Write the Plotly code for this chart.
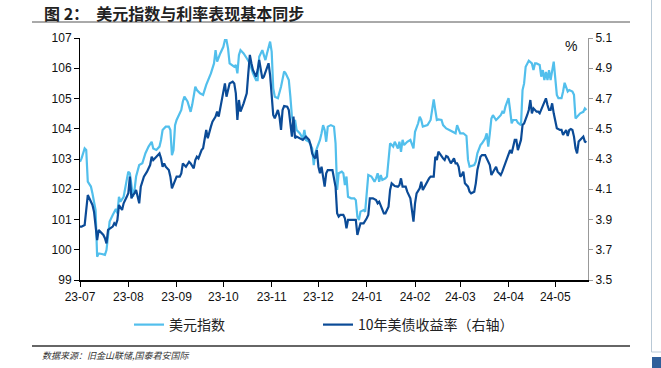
import plotly.graph_objects as go

def ds(prefix, days):
    return [f"{prefix}-{d:02d}" for d in days]

# ---- 10Y UST yield (%), right axis ----
ust_dates = (
    ds("2023-07", [1,2,4,5,6,7,9,10,11,12,13,14,16,17,18,19,21,22,23,24,25,26,28,29,31]) +
    ds("2023-08", [1,2,3,4,5,6,7,8,9,11,13,15,16,17,19,21,22,23,24,25,27,28,29,31]) +
    ds("2023-09", [1,3,4,5,7,9,10,12,13,14,15,17,18,20,21,23,24,26,27,28,29,30]) +
    ds("2023-10", [1,2,3,4,5,7,8,9,10,11,12,14,16,17,18,19,20,22,23,24,25,26,27,28,29,30,31]) +
    ds("2023-11", [1,2,3,5,6,7,8,9,11,12,13,14,15,16,17,19,21,23,25,26,27,28,29,30]) +
    ds("2023-12", [1,2,3,4,5,6,7,9,10,12,13,14,15,17,18,19,20,22,24,25,26,28,29,30]) +
    ds("2024-01", [1,2,3,5,7,8,9,11,12,13,15,16,17,19,21,22,23,24,26,27,29,30,31]) +
    ds("2024-02", [1,2,4,5,6,8,10,11,13,14,15,16,18,19,20,21,22,24,26,27,28,29]) +
    ds("2024-03", [1,2,3,4,6,7,8,10,11,12,14,15,17,19,20,21,22,24,25,27,28,30]) +
    ds("2024-04", [1,2,3,4,5,6,7,9,10,11,12,13,14,15,16,17,19,20,21,22,24,25,26,27,28,29,30]) +
    ds("2024-05", [1,2,4,5,6,8,9,10,11,12,13,14,15,16,18,19,20,21])
)
ust_vals = [
    3.853,3.853,3.864,3.963,4.062,4.040,3.996,3.952,3.853,3.764,3.831,3.820,3.798,3.776,3.742,3.831,3.842,3.853,3.875,3.864,3.897,3.996,3.963,4.007,4.051,
    4.073,4.183,4.040,4.062,4.073,4.095,4.040,4.007,4.117,4.183,4.216,4.260,4.315,4.293,4.315,4.337,4.304,4.249,4.271,4.249,4.227,4.183,4.106,4.161,
    4.183,4.183,4.205,4.271,4.249,4.282,4.271,4.238,4.293,4.315,4.304,4.359,4.371,4.492,4.437,4.514,4.547,4.580,4.613,4.580,4.635,4.679,
    4.745,4.800,4.712,4.767,4.800,4.811,4.800,4.734,4.558,4.690,4.613,4.668,4.734,4.866,4.988,4.933,4.888,4.844,4.888,4.955,4.899,4.833,4.844,4.877,4.899,4.933,4.855,
    4.701,4.591,4.569,4.624,4.580,4.492,4.624,4.650,4.646,4.624,4.536,4.448,4.580,4.437,4.448,4.437,4.426,4.448,4.426,4.393,4.337,4.315,4.304,4.359,
    4.249,4.205,4.249,4.183,4.117,4.205,4.227,4.227,4.227,4.117,3.941,3.919,3.930,3.930,3.908,3.842,3.897,3.897,3.897,3.897,3.798,3.875,3.875,3.875,
    3.908,3.930,4.040,4.040,4.029,4.007,4.018,3.963,3.941,3.941,3.985,4.095,4.139,4.121,4.117,4.128,4.172,4.117,4.117,4.084,4.040,3.963,3.886,
    4.007,4.073,4.106,4.150,4.095,4.139,4.172,4.183,4.183,4.315,4.293,4.348,4.315,4.304,4.293,4.320,4.315,4.271,4.304,4.271,4.271,4.249,
    4.183,4.194,4.216,4.139,4.117,4.084,4.073,4.084,4.139,4.227,4.315,4.326,4.326,4.282,4.260,4.194,4.216,4.249,4.216,4.194,4.216,4.271,
    4.326,4.359,4.337,4.393,4.426,4.426,4.359,4.426,4.525,4.536,4.558,4.591,4.624,4.690,4.602,4.635,4.613,4.613,4.602,4.624,4.668,4.701,4.657,4.624,4.624,4.668,4.602,
    4.558,4.503,4.492,4.492,4.459,4.492,4.452,4.492,4.498,4.492,4.448,4.371,4.337,4.415,4.437,4.448,4.415,4.410,
]

# ---- US dollar index, left axis ----
dxy_dates = (
    ds("2023-07", [1,2,4,5,6,8,9,11,12,13,15,17,18,20,22,24,25,26,27,29,31]) +
    ds("2023-08", [1,2,4,5,6,8,10,12,14,16,17,19,21,22,23,25,27,28,29,30,31]) +
    ds("2023-09", [1,4,5,6,8,10,11,13,14,16,18,20,23,25,26,27,29]) +
    ds("2023-10", [1,2,3,4,5,8,9,10,11,12,14,16,17,18,20,22,23,24,26,27,28,29,31]) +
    ds("2023-11", [1,2,3,5,7,9,10,12,13,14,15,16,17,19,21,22,23,25,26,27,28,29,30]) +
    ds("2023-12", [2,3,4,5,6,7,9,11,12,13,14,16,17,18,19,20,22,24,25,26,27,28,30,31]) +
    ds("2024-01", [1,2,4,6,7,8,9,10,11,13,14,15,16,18,19,21,22,23,24,25,27,29,30,31]) +
    ds("2024-02", [1,3,4,5,6,8,9,11,13,14,15,16,18,19,21,23,25,27,28]) +
    ds("2024-03", [1,3,5,6,7,10,11,12,14,15,17,18,19,20,21,22,24,25,27,28,29,30]) +
    ds("2024-04", [1,2,3,4,6,7,9,10,11,12,13,14,16,17,18,19,21,22,23,24,25,26,27,28,30]) +
    ds("2024-05", [1,2,3,5,6,7,9,10,12,13,14,16,17,19,20,21])
)
dxy_vals = [
    102.91,103.02,103.35,103.30,102.25,102.09,101.86,101.31,99.77,99.88,99.86,99.83,99.99,100.93,101.15,101.35,101.20,101.75,101.59,101.75,102.31,
    102.58,102.53,101.75,101.98,102.42,102.80,102.86,103.19,103.41,103.57,103.35,103.30,103.41,103.63,103.96,104.07,104.07,103.96,103.13,103.30,104.12,
    104.29,104.62,104.90,105.06,104.90,104.56,104.79,105.39,105.28,105.17,105.12,105.45,105.83,106.16,106.60,106.22,106.49,
    106.71,106.93,106.93,106.66,106.16,106.05,106.11,105.83,106.44,106.60,106.49,106.33,106.22,106.16,105.83,105.61,105.61,106.38,106.60,106.44,106.27,106.49,106.88,
    106.55,105.34,105.06,105.01,105.39,105.89,105.83,105.61,105.06,104.40,104.18,104.29,103.96,103.85,103.68,103.96,103.63,103.57,103.46,103.35,102.80,103.19,103.35,
    103.63,103.85,104.12,103.96,103.57,104.07,104.12,104.07,103.52,101.98,102.53,102.58,102.53,102.14,102.42,101.75,101.70,101.70,101.64,101.09,100.98,101.26,101.31,101.26,
    101.81,102.47,102.42,102.25,102.36,102.53,102.25,102.47,102.31,102.36,102.42,103.08,103.52,103.41,103.57,103.35,103.57,103.24,103.63,103.46,103.57,103.63,103.46,103.35,
    103.90,104.18,104.40,104.29,104.07,104.12,104.12,104.29,104.97,104.62,104.29,104.31,104.29,104.12,104.01,103.96,103.90,103.85,104.12,
    103.85,103.85,103.76,102.97,102.75,102.80,102.91,103.19,103.46,103.52,103.68,103.85,103.41,103.85,104.34,104.45,104.29,104.34,104.45,104.56,104.51,104.73,
    105.01,104.62,104.18,104.29,104.29,104.20,104.12,105.28,105.50,106.05,106.16,106.25,106.16,105.94,106.16,106.16,106.11,105.72,105.94,105.61,105.88,105.61,105.94,105.61,106.22,
    105.72,105.12,105.01,105.01,105.23,105.52,105.23,105.28,105.23,105.12,104.34,104.45,104.51,104.56,104.67,104.62,
]

assert len(ust_dates) == len(ust_vals), (len(ust_dates), len(ust_vals))
assert len(dxy_dates) == len(dxy_vals), (len(dxy_dates), len(dxy_vals))

title_text = "图 2：  美元指数与利率表现基本同步"
name_dxy = "美元指数"
name_ust = "10年美债收益率（右轴）"
source_text = "数据来源：旧金山联储,国泰君安国际"

LIGHT = "#52BFEC"
DARK = "#0B4B97"
CJK = "Noto Sans CJK SC"
LAT = "Liberation Sans, Arial, sans-serif"

W, H = 661, 368
# plot area in window pixels: x 80..588, y 38..280
L, R, T, B = 80, 588, 38, 280
def px(x): return (x - L) / (R - L)
def py(y): return (B - y) / (B - T)

fig = go.Figure()
fig.add_trace(go.Scatter(x=dxy_dates, y=dxy_vals, name=name_dxy, mode="lines",
                         line=dict(color=LIGHT, width=2.2), legend="legend"))
fig.add_trace(go.Scatter(x=ust_dates, y=ust_vals, name=name_ust, mode="lines",
                         line=dict(color=DARK, width=2.2), yaxis="y2", legend="legend2"))

fig.update_layout(
    width=W, height=H,
    margin=dict(l=L, r=W - R, t=T, b=H - B, pad=0),
    paper_bgcolor="white", plot_bgcolor="white",
    font=dict(family=LAT, size=12, color="#000"),
    xaxis=dict(type="date", range=["2023-07-01", "2024-05-22"],
               tick0="2023-07-01", dtick="M1", tickformat="%y-%m",
               ticks="outside", ticklen=5, tickcolor="#000", tickwidth=1,
               showline=True, linecolor="#000", linewidth=1.5,
               showgrid=False, zeroline=False,
               tickfont=dict(family=LAT, size=12, color="#111")),
    yaxis=dict(range=[99, 107], dtick=1, ticks="outside", ticklen=5,
               tickcolor="#000", showline=True, linecolor="#000", linewidth=1,
               showgrid=False, zeroline=False,
               tickfont=dict(family=LAT, size=12, color="#111")),
    yaxis2=dict(range=[3.5, 5.1], dtick=0.2, tick0=3.5, tickformat=".1f",
                overlaying="y", side="right", ticks="outside", ticklen=4,
                tickcolor="#999", showline=True, linecolor="#999", linewidth=1,
                showgrid=False, zeroline=False,
                tickfont=dict(family=LAT, size=12, color="#111")),
    legend=dict(x=px(129), y=py(325), xanchor="left", yanchor="middle",
                orientation="h", bgcolor="rgba(0,0,0,0)",
                font=dict(family=CJK, size=14, color="#222"), itemwidth=30),
    legend2=dict(x=px(318), y=py(325), xanchor="left", yanchor="middle",
                 orientation="h", bgcolor="rgba(0,0,0,0)",
                 font=dict(family=CJK, size=14, color="#222"), itemwidth=30),
    showlegend=True,
)

fig.add_annotation(text=f"<b>{title_text}</b>", xref="paper", yref="paper",
                   x=px(42), y=py(13), xanchor="left", yanchor="middle",
                   showarrow=False, font=dict(family=CJK, size=16, color="#222"))
fig.add_annotation(text="%", xref="paper", yref="paper", x=px(571), y=py(46),
                   xanchor="center", yanchor="middle", showarrow=False,
                   font=dict(family=LAT, size=14, color="#111"))
fig.add_annotation(text=f"<i>{source_text}</i>", xref="paper", yref="paper",
                   x=px(40), y=py(355), xanchor="left", yanchor="middle",
                   showarrow=False, font=dict(family=CJK, size=9, color="#333"))

fig.add_shape(type="line", xref="paper", yref="paper", x0=px(32), x1=px(630),
              y0=py(22), y1=py(22), line=dict(color="#555", width=1))
fig.add_shape(type="line", xref="paper", yref="paper", x0=px(32), x1=px(630),
              y0=py(346), y1=py(346), line=dict(color="#333", width=1.5))
fig.add_shape(type="line", xref="paper", yref="paper", x0=px(651.5), x1=px(651.5),
              y0=py(0), y1=py(352), line=dict(color="#B9C9D6", width=1))
fig.add_shape(type="line", xref="paper", yref="paper", x0=px(651.5), x1=px(661),
              y0=py(352), y1=py(352), line=dict(color="#B9C9D6", width=1))
fig.add_shape(type="rect", xref="paper", yref="paper", x0=px(652), x1=px(661),
              y0=py(357), y1=py(368), line=dict(width=0), fillcolor="#2F5F9A")

fig.write_html("out.html", config={"displayModeBar": False},
               post_script="document.body.style.margin='0px';document.body.style.overflow='hidden';")
